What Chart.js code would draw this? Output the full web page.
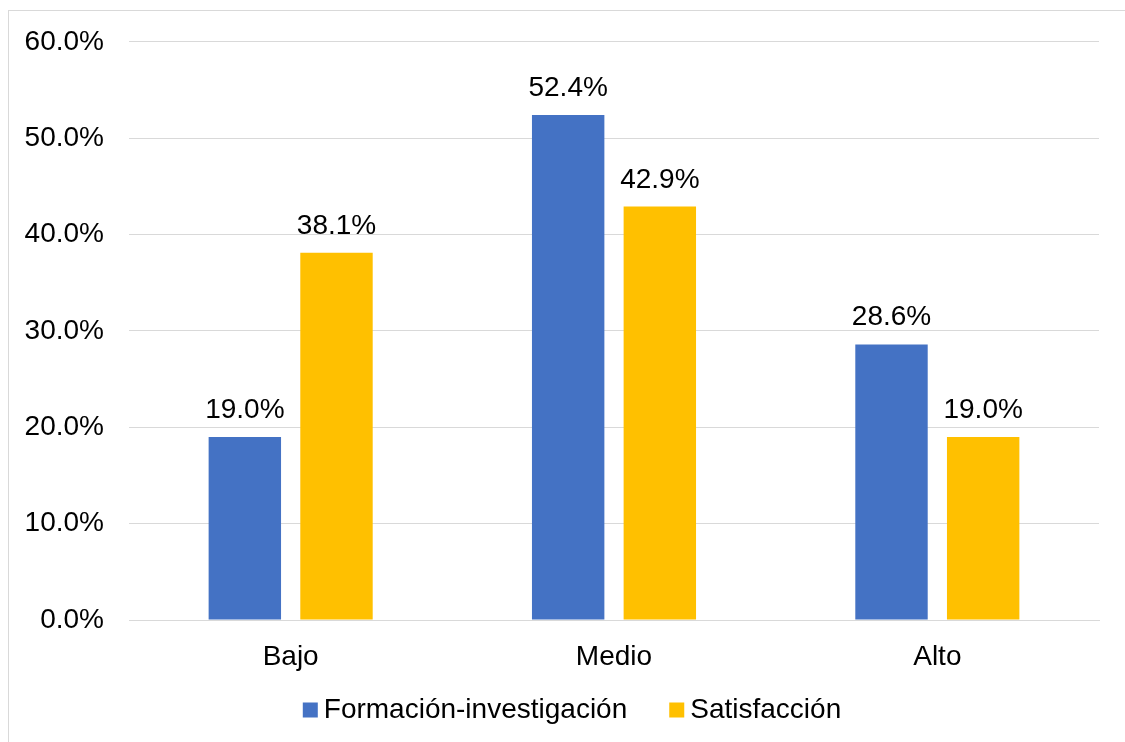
<!DOCTYPE html>
<html>
<head>
<meta charset="utf-8">
<script src="https://cdn.jsdelivr.net/npm/chart.js@4.4.1/dist/chart.umd.min.js"></script>
<style>
  html, body { margin: 0; padding: 0; background: #fff; }
  #wrap { position: relative; width: 1125px; height: 742px; }
</style>
</head>
<body>
<div id="wrap"><canvas id="c" width="1125" height="742"></canvas></div>
<script>
const categories = ['Bajo', 'Medio', 'Alto'];
const seriesNames = ['Formación-investigación', 'Satisfacción'];
const formacionValues = [19.0, 52.4, 28.6];
const satisfaccionValues = [38.1, 42.9, 19.0];
const yTicks = [0, 10, 20, 30, 40, 50, 60];

const FONT = '"Liberation Sans", Arial, sans-serif';
const FS = 28;

const frame = {
  id: 'frame',
  beforeDraw(chart) {
    const ctx = chart.ctx;
    ctx.save();
    ctx.fillStyle = '#fff';
    ctx.fillRect(0, 0, chart.width, chart.height);
    ctx.strokeStyle = '#D9D9D9';
    ctx.lineWidth = 1;
    ctx.strokeRect(8.5, 10.5, 1140, 760);
    ctx.restore();
  }
};

const valueLabels = {
  id: 'valueLabels',
  afterDatasetsDraw(chart) {
    const ctx = chart.ctx;
    ctx.save();
    ctx.font = FS + 'px ' + FONT;
    ctx.fillStyle = '#000';
    ctx.textAlign = 'center';
    ctx.textBaseline = 'alphabetic';
    chart.data.datasets.forEach((ds, i) => {
      chart.getDatasetMeta(i).data.forEach((el, j) => {
        ctx.fillText(ds.data[j].toFixed(1) + '%', el.x, el.y - 19);
      });
    });
    ctx.restore();
  }
};

const customLegend = {
  id: 'customLegend',
  afterDraw(chart) {
    const ctx = chart.ctx;
    ctx.save();
    ctx.font = FS + 'px ' + FONT;
    const box = 15, gapText = 6, gapItem = 42;
    const items = chart.data.datasets.map(ds => ({ text: ds.label, color: ds.backgroundColor, w: ctx.measureText(ds.label).width }));
    let total = 0;
    items.forEach((it, i) => { total += box + gapText + it.w + (i < items.length - 1 ? gapItem : 0); });
    let x = 572 - total / 2;
    const cy = 710;
    ctx.textBaseline = 'middle';
    ctx.textAlign = 'left';
    items.forEach(it => {
      ctx.fillStyle = it.color;
      ctx.fillRect(x, cy - box / 2, box, box);
      ctx.fillStyle = '#000';
      ctx.fillText(it.text, x + box + gapText, cy);
      x += box + gapText + it.w + gapItem;
    });
    ctx.restore();
  }
};

new Chart(document.getElementById('c'), {
  type: 'bar',
  data: {
    labels: categories,
    datasets: [
      { label: seriesNames[0], data: formacionValues, backgroundColor: '#4472C4' },
      { label: seriesNames[1], data: satisfaccionValues, backgroundColor: '#FFC000' }
    ]
  },
  options: {
    responsive: false,
    animation: false,
    devicePixelRatio: 1,
    layout: { padding: { top: 40, right: 26, bottom: 0, left: 0 } },
    datasets: { bar: { categoryPercentage: 0.567, barPercentage: 0.79 } },
    plugins: {
      legend: { display: false },
      tooltip: { enabled: false }
    },
    scales: {
      x: {
        grid: { display: false, drawTicks: false },
        border: { display: true, color: '#D9D9D9', width: 1 },
        ticks: { color: '#000', font: { family: FONT, size: FS }, padding: 20 },
        afterFit(s) { s.height = 122; }
      },
      y: {
        min: 0, max: 60,
        afterBuildTicks(s) { s.ticks = yTicks.map(v => ({ value: v })); },
        grid: { color: '#D9D9D9', lineWidth: 1, drawTicks: false },
        border: { display: false },
        ticks: {
          color: '#000', font: { family: FONT, size: FS }, padding: 25,
          callback: v => Number(v).toFixed(1) + '%'
        },
        afterFit(s) { s.width = 129; }
      }
    }
  },
  plugins: [frame, valueLabels, customLegend]
});
</script>
</body>
</html>
